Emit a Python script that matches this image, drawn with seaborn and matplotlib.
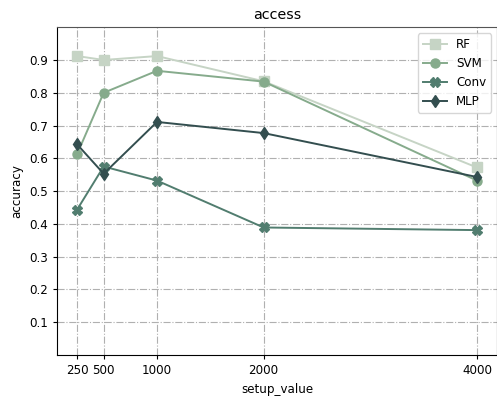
import matplotlib
matplotlib.use("Agg")
import matplotlib.pyplot as plt
import seaborn as sns
import pandas as pd

setup_values = [250, 500, 1000, 2000, 4000]
rf = [0.912, 0.900, 0.912, 0.835, 0.572]
svm = [0.612, 0.800, 0.867, 0.834, 0.532]
conv = [0.443, 0.575, 0.532, 0.389, 0.381]
mlp = [0.643, 0.553, 0.711, 0.677, 0.543]
models = ["RF", "SVM", "Conv", "MLP"]
yticks = [0.1, 0.2, 0.3, 0.4, 0.5, 0.6, 0.7, 0.8, 0.9]

colors = {"RF": "#c6d4c5", "SVM": "#86ab8c", "Conv": "#517d6f", "MLP": "#334e4f"}
markers = {"RF": "s", "SVM": "o", "Conv": "X", "MLP": "d"}

rows = []
for name, vals in zip(models, [rf, svm, conv, mlp]):
    for x, y in zip(setup_values, vals):
        rows.append({"setup_value": x, "accuracy": y, "model": name})
df = pd.DataFrame(rows)

fs = 8.6
fig = plt.figure(figsize=(4.97, 4.0), dpi=100)
ax = fig.add_axes([0.1147, 0.1125, 0.8853, 0.8195])

sns.lineplot(data=df, x="setup_value", y="accuracy", hue="model", style="model",
             hue_order=models, style_order=models, palette=colors, markers=markers,
             dashes=False, markersize=6.5, linewidth=1.4, ax=ax)

for line in ax.lines:
    line.set_markeredgecolor(line.get_color())
    line.set_markeredgewidth(1.0)

ax.set_xticks(setup_values)
ax.set_xticklabels([str(v) for v in setup_values])
ax.set_yticks(yticks)
ax.set_ylim(0, 1.0)
ax.tick_params(labelsize=fs, length=3)
ax.grid(True, linestyle="-.", color="#b0b0b0", linewidth=0.8)
ax.set_axisbelow(True)
ax.set_title("access", fontsize=10.3)
ax.set_xlabel("setup_value", fontsize=fs)
ax.set_ylabel("accuracy", fontsize=fs)
ax.spines["top"].set_color("#555555")
leg = ax.legend(loc="upper right", title=None, fontsize=fs)
for h in leg.legend_handles:
    h.set_markeredgecolor(h.get_color())

fig.savefig("out.png", dpi=100)
